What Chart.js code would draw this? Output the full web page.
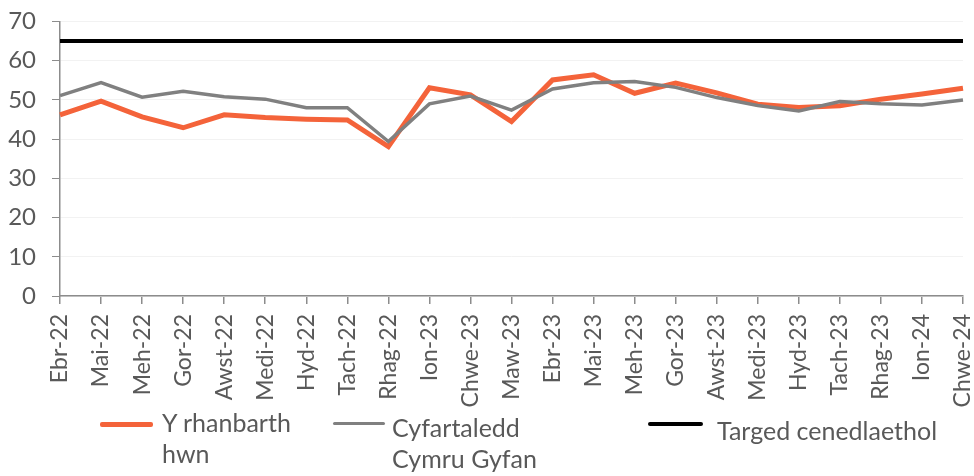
<!DOCTYPE html>
<html>
<head>
<meta charset="utf-8">
<script src="https://cdn.jsdelivr.net/npm/chart.js@4.4.1/dist/chart.umd.min.js"></script>
<style>
  html, body { margin: 0; padding: 0; background: #ffffff; }
  #wrap { position: relative; width: 974px; height: 476px; overflow: hidden; }
  #c { position: absolute; left: 0; top: 0; }
  .lg-line { position: absolute; }
  .lg-text { position: absolute; font-family: "Lato", "Liberation Sans", sans-serif; font-size: 25px; line-height: 31px; color: #595959; white-space: nowrap; }
</style>
</head>
<body>
<div id="wrap">
  <canvas id="c" width="974" height="476"></canvas>
  <div id="legend"></div>
</div>
<script>
// ---- Data ----
const categories = ['Ebr-22','Mai-22','Meh-22','Gor-22','Awst-22','Medi-22','Hyd-22','Tach-22','Rhag-22','Ion-23','Chwe-23','Maw-23','Ebr-23','Mai-23','Meh-23','Gor-23','Awst-23','Medi-23','Hyd-23','Tach-23','Rhag-23','Ion-24','Chwe-24'];
const regionValues = [46.2, 49.7, 45.7, 42.9, 46.2, 45.5, 45.1, 44.9, 38.1, 53.1, 51.3, 44.5, 55.1, 56.4, 51.7, 54.3, 51.8, 48.9, 48.1, 48.5, 50.2, 51.5, 53.0];
const walesValues = [51.1, 54.4, 50.7, 52.2, 50.8, 50.2, 48.0, 48.0, 39.4, 49.0, 51.0, 47.4, 52.8, 54.4, 54.7, 53.2, 50.6, 48.6, 47.2, 49.6, 49.0, 48.7, 50.0];
const targetValues = [65, 65, 65, 65, 65, 65, 65, 65, 65, 65, 65, 65, 65, 65, 65, 65, 65, 65, 65, 65, 65, 65, 65];
const yTicks = [0, 10, 20, 30, 40, 50, 60, 70];
const seriesNames = ['Y rhanbarth hwn', 'Cyfartaledd Cymru Gyfan', 'Targed cenedlaethol'];
const legendLines = [['Y rhanbarth', 'hwn'], ['Cyfartaledd', 'Cymru Gyfan'], ['Targed cenedlaethol']];

// ---- Styles ----
const ORANGE = '#f4633a';
const GREY = '#808080';
const BLACK = '#000000';
const AXIS = '#8c8c8c';
const TEXT = '#595959';
const TICK_FONT = 'Lato, "Liberation Sans", sans-serif';

const ctx = document.getElementById('c').getContext('2d');
new Chart(ctx, {
  type: 'line',
  data: {
    labels: categories,
    datasets: [
      { label: seriesNames[0], data: regionValues, borderColor: ORANGE, backgroundColor: ORANGE, borderWidth: 5, pointRadius: 0, tension: 0, order: 2 },
      { label: seriesNames[1], data: walesValues, borderColor: GREY, backgroundColor: GREY, borderWidth: 3.5, pointRadius: 0, tension: 0, order: 1 },
      { label: seriesNames[2], data: targetValues, borderColor: BLACK, backgroundColor: BLACK, borderWidth: 4, pointRadius: 0, tension: 0, order: 0 }
    ]
  },
  options: {
    responsive: false,
    animation: false,
    devicePixelRatio: 1,
    layout: { padding: { top: 21.5, right: 11, left: 0, bottom: 0 } },
    plugins: { legend: { display: false }, tooltip: { enabled: false } },
    scales: {
      x: {
        offset: false,
        grid: { drawOnChartArea: false, drawTicks: true, tickLength: 8, color: AXIS, tickColor: AXIS, lineWidth: 1.5 },
        border: { color: AXIS, width: 1.5 },
        ticks: { autoSkip: false, minRotation: 90, maxRotation: 90, padding: 10, color: TEXT, font: { family: TICK_FONT, size: 23 } },
        afterFit: (s) => { s.height = 180; s.paddingLeft = 0; s.paddingRight = 0; }
      },
      y: {
        min: 0, max: 70,
        afterBuildTicks: (s) => { s.ticks = yTicks.map(v => ({ value: v })); },
        grid: { color: '#f2f2f2', lineWidth: 1, drawTicks: true, tickLength: 8, tickColor: AXIS },
        border: { color: AXIS, width: 1.5 },
        ticks: { padding: 16, color: TEXT, font: { family: TICK_FONT, size: 24 } },
        afterFit: (s) => { s.width = 60; s.paddingTop = 0; s.paddingBottom = 0; }
      }
    }
  }
});

// ---- HTML legend ----
const legendCfg = [
  { color: ORANGE, lineLeft: 100, lineWidth: 53, lineTop: 421.5, lineH: 5, textLeft: 162, textTop: 407 },
  { color: GREY, lineLeft: 333, lineWidth: 52, lineTop: 422, lineH: 3, textLeft: 392, textTop: 412 },
  { color: BLACK, lineLeft: 648, lineWidth: 55, lineTop: 422, lineH: 4, textLeft: 717, textTop: 415 }
];
const lg = document.getElementById('legend');
legendCfg.forEach((c, i) => {
  const ln = document.createElement('div');
  ln.className = 'lg-line';
  ln.style.cssText = `left:${c.lineLeft}px;top:${c.lineTop}px;width:${c.lineWidth}px;height:${c.lineH}px;background:${c.color};border-radius:2px;`;
  lg.appendChild(ln);
  const tx = document.createElement('div');
  tx.className = 'lg-text';
  tx.style.left = c.textLeft + 'px';
  tx.style.top = c.textTop + 'px';
  tx.innerHTML = legendLines[i].join('<br>');
  lg.appendChild(tx);
});
</script>
</body>
</html>
